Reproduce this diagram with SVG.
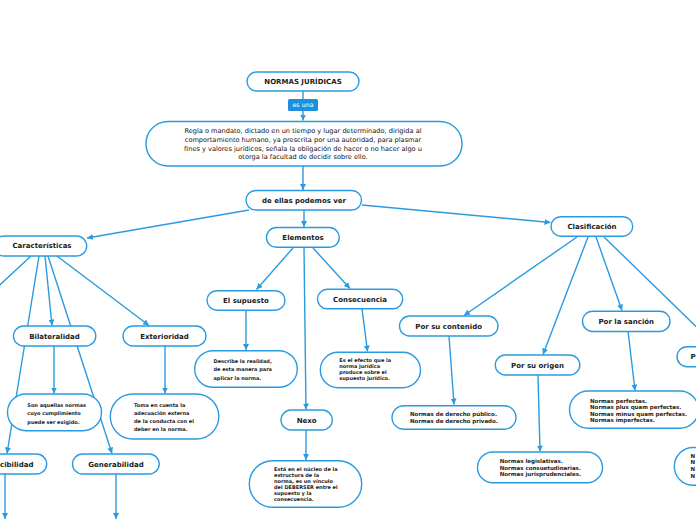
<svg xmlns="http://www.w3.org/2000/svg" width="696" height="520" viewBox="0 0 696 520">
<defs>
<marker id="ah" markerUnits="userSpaceOnUse" markerWidth="8" markerHeight="8" refX="6" refY="3" orient="auto">
<path d="M0,0 L6,3 L0,6 z" fill="#2a9be0"/>
</marker>
<style>
.n{fill:#fff;stroke:#2a9be0;stroke-width:1.4}
.c{fill:none;stroke:#2a9be0;stroke-width:1.4}
.a{marker-end:url(#ah)}
.h{font-family:"DejaVu Sans",Verdana,sans-serif;font-weight:bold;font-size:7px;fill:#1a1a1a;text-anchor:middle}
.d{font-family:"DejaVu Sans",Verdana,sans-serif;font-size:6.6px;fill:#111;text-anchor:middle}
.s{font-family:"DejaVu Sans",Verdana,sans-serif;font-weight:bold;font-size:5px;fill:#222}
.m{font-family:"DejaVu Sans",Verdana,sans-serif;font-weight:bold;font-size:5.5px;fill:#222}
</style>
</defs>
<rect width="696" height="520" fill="#fff"/>
<g id="connectors">
<path class="c" d="M303,91 L303,99"/>
<path class="c a" d="M303,111 L303,120.5"/>
<path class="c a" d="M303,166 L303,190"/>
<path class="c a" d="M304,210 L304,227"/>
<path class="c a" d="M249,210 L87,238"/>
<path class="c a" d="M362,205 L550.5,222.5"/>
<path class="c a" d="M293,248 L256.5,289.5"/>
<path class="c a" d="M313,248 L350,288.5"/>
<path class="c a" d="M304,248 L306,409.5"/>
<path class="c a" d="M246,310 L246,350"/>
<path class="c a" d="M362,309 L367.5,351.5"/>
<path class="c a" d="M306,430 L306,460"/>
<path class="c" d="M31,256 L-10,294"/>
<path class="c a" d="M39,256 L7,453.5"/>
<path class="c a" d="M45,256 L52,325.5"/>
<path class="c a" d="M48,256 L112,453.5"/>
<path class="c a" d="M57,256 L149,325.5"/>
<path class="c a" d="M54,346 L54,393.5"/>
<path class="c a" d="M165,346 L165,393.5"/>
<path class="c a" d="M5,474 L5,519"/>
<path class="c a" d="M116,474 L116,519"/>
<path class="c a" d="M577,237 L464,315.5"/>
<path class="c a" d="M588,237 L543,354.5"/>
<path class="c a" d="M596,237 L622,310.5"/>
<path class="c" d="M604,237 L712,342"/>
<path class="c a" d="M449,336 L454,404.5"/>
<path class="c a" d="M538,375 L540,451.5"/>
<path class="c a" d="M628,331 L635,390.5"/>
</g>
<g id="n-normas"><rect class="n" x="247" y="72" width="112" height="19" rx="9.5"/><text class="h" x="303" y="83.5">NORMAS JURÍDICAS</text></g>
<g id="l-esuna"><rect x="288" y="99" width="30" height="12" rx="1.5" fill="#1e8fdc"/><text x="303" y="107.4" font-family="DejaVu Sans,Verdana,sans-serif" font-size="6.3" fill="#fff" text-anchor="middle">es una</text></g>
<g id="n-def"><rect class="n" x="146" y="121.5" width="316" height="44.5" rx="22"/>
<text class="d"><tspan x="303" y="133.3">Regla o mandato, dictado en un tiempo y lugar determinado, dirigida al</tspan><tspan x="303" y="142.2">comportamiento humano, ya prescrita por una autoridad, para plasmar</tspan><tspan x="303" y="151">fines y valores jurídicos, señala la obligación de hacer o no hacer algo u</tspan><tspan x="303" y="159.2">otorga la facultad de decidir sobre ello.</tspan></text></g>
<g id="n-deellas"><rect class="n" x="246" y="190.5" width="115.5" height="19.5" rx="9.7"/><text class="h" x="304" y="202.8">de ellas podemos ver</text></g>
<g id="n-elementos"><rect class="n" x="266.5" y="227.5" width="72.8" height="19.8" rx="9.9"/><text class="h" x="303" y="239.8">Elementos</text></g>
<g id="n-caracteristicas"><rect class="n" x="-6" y="236" width="92.7" height="20" rx="10"/><text class="h" x="42" y="248.4">Características</text></g>
<g id="n-clasificacion"><rect class="n" x="551" y="216.7" width="81.7" height="19.5" rx="9.7"/><text class="h" x="592" y="228.8">Clasificación</text></g>
<g id="n-supuesto"><rect class="n" x="207" y="290.7" width="78" height="19.5" rx="9.7"/><text class="h" x="246" y="302.8">El supuesto</text></g>
<g id="n-consecuencia"><rect class="n" x="317.5" y="289.3" width="85.2" height="19.5" rx="9.7"/><text class="h" x="360" y="301.6">Consecuencia</text></g>
<g id="n-describe"><rect class="n" x="194.7" y="350.7" width="102.6" height="36.6" rx="18.3"/>
<text class="s"><tspan x="213.5" y="362.7">Describe la realidad,</tspan><tspan x="213.5" y="371.4">de esta manera para</tspan><tspan x="213.5" y="380">aplicar la norma.</tspan></text></g>
<g id="n-efecto"><rect class="n" x="320.3" y="352.2" width="100.2" height="35.6" rx="17.8"/>
<text class="s"><tspan x="339.3" y="362.4">Es el efecto que la</tspan><tspan x="339.3" y="368.2">norma jurídica</tspan><tspan x="339.3" y="374.4">produce sobre el</tspan><tspan x="339.3" y="380.2">supuesto jurídico.</tspan></text></g>
<g id="n-bilateralidad"><rect class="n" x="13.5" y="326" width="82.3" height="20" rx="10"/><text class="h" x="54.5" y="338.5">Bilateralidad</text></g>
<g id="n-exterioridad"><rect class="n" x="123" y="326" width="83" height="20" rx="10"/><text class="h" x="164.5" y="338.5">Exterioridad</text></g>
<g id="n-aquellas"><rect class="n" x="7.5" y="394" width="94" height="36.7" rx="18.3"/>
<text class="s"><tspan x="27.3" y="406.5">Son aquellas normas</tspan><tspan x="27.3" y="415">cuyo cumplimiento</tspan><tspan x="27.3" y="423.8">puede ser exigido.</tspan></text></g>
<g id="n-toma"><rect class="n" x="110.3" y="394" width="108.5" height="45" rx="22.5"/>
<text class="s"><tspan x="134" y="407">Toma en cuenta la</tspan><tspan x="134" y="414.8">adecuación externa</tspan><tspan x="134" y="423.4">de la conducta con el</tspan><tspan x="134" y="431.4">deber en la norma.</tspan></text></g>
<g id="n-coercibilidad"><rect class="n" x="-40" y="454" width="86.7" height="20" rx="10"/><text class="h" x="33.5" y="466.5" style="text-anchor:end">cibilidad</text></g>
<g id="n-generabilidad"><rect class="n" x="72.5" y="454" width="86.7" height="20" rx="10"/><text class="h" x="116" y="466.5">Generabilidad</text></g>
<g id="n-nexo"><rect class="n" x="281" y="410" width="51.3" height="20" rx="10"/><text class="h" x="306.7" y="422.5">Nexo</text></g>
<g id="n-nucleo"><rect class="n" x="249.3" y="460.7" width="112.4" height="46.6" rx="23.3"/>
<text class="s"><tspan x="274" y="470.8">Está en el núcleo de la</tspan><tspan x="274" y="476.8">estructura de la</tspan><tspan x="274" y="482.8">norma, es un vínculo</tspan><tspan x="274" y="488.8">del DEBERSER entre el</tspan><tspan x="274" y="494.8">supuesto y la</tspan><tspan x="274" y="500.8">consecuencia.</tspan></text></g>
<g id="n-contenido"><rect class="n" x="399.5" y="316" width="98.5" height="20" rx="10"/><text class="h" x="448.7" y="328.5">Por su contenido</text></g>
<g id="n-origen"><rect class="n" x="495.3" y="355" width="84.5" height="20" rx="10"/><text class="h" x="537.5" y="367.5">Por su origen</text></g>
<g id="n-sancion"><rect class="n" x="582.5" y="311.2" width="87.5" height="20.3" rx="10"/><text class="h" x="626.3" y="323.7">Por la sanción</text></g>
<g id="n-p"><rect class="n" x="677" y="346.7" width="60" height="20" rx="10"/><text class="h" x="690.5" y="359.2" style="text-anchor:start">P</text></g>
<g id="n-publico"><rect class="n" x="392" y="405.7" width="124" height="23.6" rx="11.8"/>
<text class="m"><tspan x="410" y="416.4">Normas de derecho público.</tspan><tspan x="410" y="423">Normas de derecho privado.</tspan></text></g>
<g id="n-perfectas"><rect class="n" x="569.5" y="391" width="129" height="37.3" rx="18.6"/>
<text class="m"><tspan x="590" y="402.5">Normas perfectas.</tspan><tspan x="590" y="409">Normas plus quam perfectas.</tspan><tspan x="590" y="415.7">Normas minus quam perfectas.</tspan><tspan x="590" y="422.2">Normas imperfectas.</tspan></text></g>
<g id="n-legislativas"><rect class="n" x="477.5" y="452" width="125" height="30.7" rx="15.3"/>
<text class="m"><tspan x="499.7" y="462.8">Normas legislativas.</tspan><tspan x="499.7" y="469.6">Normas consuetudinarias.</tspan><tspan x="499.7" y="475.8">Normas jurisprudenciales.</tspan></text></g>
<g id="n-right"><rect class="n" x="674.3" y="447.5" width="60" height="37.8" rx="18.9"/>
<text class="m"><tspan x="690.5" y="457.8">N</tspan><tspan x="690.5" y="464.4">N</tspan><tspan x="690.5" y="471">N</tspan><tspan x="690.5" y="477.6">N</tspan></text></g>
</svg>
